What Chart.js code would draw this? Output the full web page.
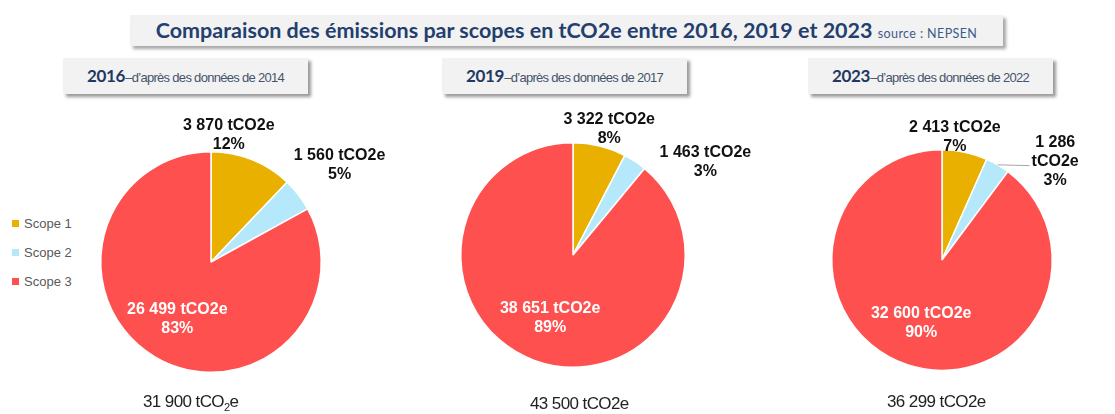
<!DOCTYPE html>
<html>
<head>
<meta charset="utf-8">
<script src="https://cdn.jsdelivr.net/npm/chart.js@4/dist/chart.umd.min.js"></script>
<style>
  body { margin: 0; width: 1115px; height: 414px; background: #fff; position: relative; overflow: hidden; font-family: 'Liberation Sans', Arial, sans-serif; }
  .title { position: absolute; left: 130px; top: 15px; width: 873px; height: 31px; background: #f2f2f2; box-shadow: 3px 3px 3px rgba(0,0,0,0.35); text-align: center; line-height: 31px; color: #243f6e; font-family: Lato, sans-serif; font-weight: 700; font-size: 21.5px; white-space: nowrap; }
  .title small { font-weight: 400; font-size: 12.5px; letter-spacing: 0.4px; color: #3b5a8c; }
  .sub { position: absolute; top: 58px; width: 245px; height: 36px; background: #f2f2f2; box-shadow: 3px 3px 3px rgba(0,0,0,0.4); text-align: center; line-height: 36px; white-space: nowrap; }
  .sub b { font-family: Lato, sans-serif; font-size: 17px; letter-spacing: -0.3px; color: #1f3864; }
  .sub span { font-family: 'Liberation Sans Narrow', 'Liberation Sans', sans-serif; font-size: 13px; letter-spacing: -0.7px; color: #44546a; }
  .legend { position: absolute; left: 12px; top: 216px; font-size: 13px; color: #595959; }
  .legend div { height: 29px; line-height: 16px; }
  .legend i { display: inline-block; width: 7px; height: 7px; margin-right: 5px; vertical-align: 1px; }
  .total { position: absolute; font-family: 'Liberation Sans Narrow', 'Liberation Sans', sans-serif; font-size: 17px; letter-spacing: -0.6px; color: #222; white-space: nowrap; }
  canvas { position: absolute; }
</style>
</head>
<body>
<div class="title">Comparaison des émissions par scopes en tCO2e entre 2016, 2019 et 2023 <small>source : NEPSEN</small></div>
<div id="legend" class="legend"></div>

<script>
const categories = ['Scope 1', 'Scope 2', 'Scope 3'];
const years = ['2016', '2019', '2023'];
const dataYears = ['2014', '2017', '2022'];

const values2016 = [3870, 1560, 26499];
const values2019 = [3322, 1463, 38651];
const values2023 = [2413, 1286, 32600];

const percent2016 = [12, 5, 83];
const percent2019 = [8, 3, 89];
const percent2023 = [7, 3, 90];

const totals = ['31 900', '43 500', '36 299'];

const colors = ['#e9b000', '#b5e8fa', '#ff5050'];

// layout of each pie: centre, radius, where the outside labels go (angle from top, radius factor)
const pies = [
  { values: values2016, percents: percent2016, cx: 211, cy: 262, r: 110, subLeft: 63, totalLeft: 143, totalTop: 392,
    outside: [[8, 1.16], [53, 1.46], null], wrap: [false, false, false], leader: [false, false, false] },
  { values: values2019, percents: percent2019, cx: 573, cy: 255, r: 112, subLeft: 442, totalLeft: 530, totalTop: 394,
    outside: [[16, 1.17], [55, 1.44], null], wrap: [false, false, false], leader: [false, false, false] },
  { values: values2023, percents: percent2023, cx: 942, cy: 260, r: 110, subLeft: 808, totalLeft: 887, totalTop: 392,
    outside: [[6, 1.12], [49, 1.36], null], wrap: [false, true, false], leader: [false, true, false] },
];

function fmt(n) {
  return String(n).replace(/\B(?=(\d{3})+(?!\d))/g, ' ');
}

// legend
const legend = document.getElementById('legend');
categories.forEach((c, i) => {
  const row = document.createElement('div');
  row.innerHTML = '<i style="background:' + colors[i] + '"></i>' + c;
  legend.appendChild(row);
});

const labelPlugin = {
  id: 'pieLabels',
  afterDatasetsDraw(chart) {
    const cfg = chart.options.plugins.pieLabels;
    const ctx = chart.ctx;
    const meta = chart.getDatasetMeta(0);
    ctx.save();
    ctx.font = 'bold 16px "Liberation Sans", Arial, sans-serif';
    ctx.textAlign = 'center';
    ctx.textBaseline = 'middle';
    meta.data.forEach((arc, i) => {
      const p = arc.getProps(['x', 'y', 'startAngle', 'endAngle', 'outerRadius'], true);
      const value = chart.data.datasets[0].data[i];
      let lines = cfg.wrap[i] ? [fmt(value), 'tCO2e'] : [fmt(value) + ' tCO2e'];
      lines.push(cfg.percents[i] + '%');
      let lx, ly;
      const pos = cfg.outside[i];
      if (pos) {
        const a = -Math.PI / 2 + pos[0] * Math.PI / 180;
        lx = p.x + Math.cos(a) * p.outerRadius * pos[1];
        ly = p.y + Math.sin(a) * p.outerRadius * pos[1];
        ctx.fillStyle = '#111';
      } else {
        const mid = (p.startAngle + p.endAngle) / 2;
        lx = p.x + Math.cos(mid) * p.outerRadius * 0.6;
        ly = p.y + Math.sin(mid) * p.outerRadius * 0.6;
        ctx.fillStyle = '#fff';
      }
      const lh = 19;
      const top = ly - (lines.length - 1) * lh / 2;
      if (cfg.leader[i]) {
        const mid = (p.startAngle + p.endAngle) / 2;
        const w = Math.max(...lines.map(l => ctx.measureText(l).width));
        ctx.strokeStyle = '#a6a6a6';
        ctx.lineWidth = 1;
        ctx.beginPath();
        ctx.moveTo(p.x + Math.cos(mid) * p.outerRadius, p.y + Math.sin(mid) * p.outerRadius);
        ctx.lineTo(lx - w / 2 - 2, ly + 4);
        ctx.stroke();
      }
      lines.forEach((l, k) => ctx.fillText(l, lx, top + k * lh));
    });
    ctx.restore();
  }
};

pies.forEach((pie, n) => {
  const sub = document.createElement('div');
  sub.className = 'sub';
  sub.style.left = pie.subLeft + 'px';
  sub.innerHTML = '<b>' + years[n] + '</b><span>–d’après des données de ' + dataYears[n] + '</span>';
  document.body.appendChild(sub);

  const W = 370, H = 300;
  const canvas = document.createElement('canvas');
  canvas.width = W;
  canvas.height = H;
  canvas.style.left = (pie.cx - W / 2) + 'px';
  canvas.style.top = (pie.cy - H / 2) + 'px';
  document.body.appendChild(canvas);

  const padX = W / 2 - pie.r - 1, padY = H / 2 - pie.r - 1;
  new Chart(canvas.getContext('2d'), {
    type: 'pie',
    data: {
      labels: categories,
      datasets: [{
        data: pie.values,
        backgroundColor: colors,
        borderColor: '#ffffff',
        borderWidth: 1.5,
        hoverOffset: 0,
      }],
    },
    options: {
      responsive: false,
      animation: false,
      layout: { padding: { left: padX, right: padX, top: padY, bottom: padY } },
      plugins: {
        legend: { display: false },
        tooltip: { enabled: false },
        pieLabels: { percents: pie.percents, outside: pie.outside, wrap: pie.wrap, leader: pie.leader },
      },
    },
    plugins: [labelPlugin],
  });

  const total = document.createElement('div');
  total.className = 'total';
  total.style.left = pie.totalLeft + 'px';
  total.style.top = pie.totalTop + 'px';
  total.innerHTML = n === 0 ? totals[n] + ' tCO<sub style="font-size:11px">2</sub>e' : totals[n] + ' tCO2e';
  document.body.appendChild(total);
});
</script>
</body>
</html>
